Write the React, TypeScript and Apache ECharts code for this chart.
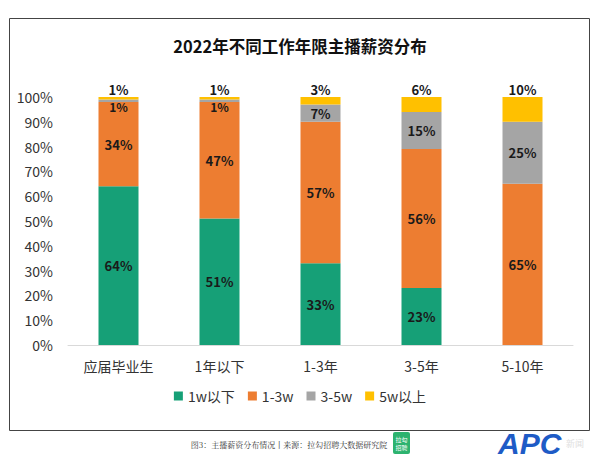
import React, { useEffect, useRef } from "react";
import * as echarts from "echarts";

const categories = ["应届毕业生", "1年以下", "1-3年", "3-5年", "5-10年"];
const seriesNames = ["1w以下", "1-3w", "3-5w", "5w以上"];
const below1w = [64, 51, 33, 23, 0];
const w1to3 = [34, 47, 57, 56, 65];
const w3to5 = [1, 1, 7, 15, 25];
const above5w = [1, 1, 3, 6, 10];
const colors = ["#16A077", "#ED7D31", "#A5A5A5", "#FFC000"];

const FONT = "'Noto Sans CJK SC', 'Noto Sans', sans-serif";

export default function App() {
  const ref = useRef<HTMLDivElement>(null);
  useEffect(() => {
    document.body.style.margin = "0";
    if (!ref.current) return;
    const chart = echarts.init(ref.current, null, { renderer: "svg" });
    const labelBase = {
      show: true,
      formatter: (p: any) => (p.value > 0 ? p.value + "%" : ""),
      color: "#1a1a1a",
      fontSize: 13,
      fontWeight: "bold" as const,
      fontFamily: FONT,
    };
    const datas = [below1w, w1to3, w3to5, above5w];
    const series = datas.map((d, i) => ({
      name: seriesNames[i],
      type: "bar",
      stack: "total",
      barWidth: 40,
      itemStyle: { color: colors[i] },
      data: d.map((v) =>
        i === 2 && v <= 1
          ? { value: v, label: { offset: [0, 6], fontSize: 12, lineHeight: 12 } }
          : v
      ),
      label: {
        ...labelBase,
        position: i === 3 ? "top" : "inside",
        distance: 1,
        lineHeight: 13,
      },
    }));
    chart.setOption({
      animation: false,
      backgroundColor: "#ffffff",
      textStyle: { fontFamily: FONT },
      title: {
        text: "2022年不同工作年限主播薪资分布",
        left: "center",
        top: 33,
        textStyle: { fontSize: 16.5, fontWeight: "bold", color: "#111", fontFamily: FONT },
      },
      legend: {
        data: seriesNames,
        bottom: 52,
        left: "center",
        itemWidth: 9,
        itemHeight: 9,
        itemGap: 13,
        icon: "rect",
        textStyle: { fontSize: 14, color: "#333", fontFamily: FONT },
      },
      grid: { left: 68, right: 27, top: 97, bottom: 115 },
      xAxis: {
        type: "category",
        data: categories,
        axisLine: { lineStyle: { color: "#D9D9D9" } },
        axisTick: { show: false },
        axisLabel: { fontSize: 14, color: "#333", margin: 14, fontFamily: FONT },
      },
      yAxis: {
        type: "value",
        min: 0,
        max: 100,
        interval: 10,
        splitLine: { show: false },
        axisLine: { show: false },
        axisTick: { show: false },
        axisLabel: { formatter: "{value}%", fontSize: 14, color: "#333", margin: 15, fontFamily: FONT },
      },
      series,
      graphic: [
        {
          type: "rect",
          shape: { x: 9.5, y: 18.5, width: 580, height: 412 },
          style: { fill: "none", stroke: "#444", lineWidth: 1 },
          silent: true,
          z: -1,
        },
        {
          type: "text",
          x: 289,
          y: 444,
          style: {
            text: "图3：主播薪资分布情况丨来源：拉勾招聘大数据研究院",
            fontSize: 8,
            fontFamily: "'Noto Serif CJK SC', 'Noto Sans CJK SC', serif",
            fill: "#333",
            align: "center",
            verticalAlign: "middle",
          },
        },
        {
          type: "rect",
          shape: { x: 393, y: 432, width: 17, height: 22, r: 2 },
          style: { fill: "#2DB36F" },
        },
        {
          type: "text",
          x: 401.5,
          y: 439,
          style: {
            text: "拉勾",
            fontSize: 6,
            fill: "#fff",
            align: "center",
            verticalAlign: "middle",
            fontFamily: FONT,
          },
        },
        {
          type: "text",
          x: 401.5,
          y: 447,
          style: {
            text: "招聘",
            fontSize: 6,
            fill: "#fff",
            align: "center",
            verticalAlign: "middle",
            fontFamily: FONT,
          },
        },
        {
          type: "text",
          x: 498,
          y: 443,
          style: {
            text: "APC",
            fontSize: 30,
            fontWeight: "bold",
            fontStyle: "italic",
            fill: "#1E5BC6",
            align: "left",
            verticalAlign: "middle",
            fontFamily: "'Liberation Sans', Arial, sans-serif",
          },
        },
        {
          type: "text",
          x: 566,
          y: 443,
          style: {
            text: "新闻",
            fontSize: 9,
            fill: "#e0e0e0",
            align: "left",
            verticalAlign: "middle",
            fontFamily: FONT,
          },
        },
      ],
    });
    return () => chart.dispose();
  }, []);
  return <div ref={ref} style={{ width: 600, height: 460 }} />;
}
